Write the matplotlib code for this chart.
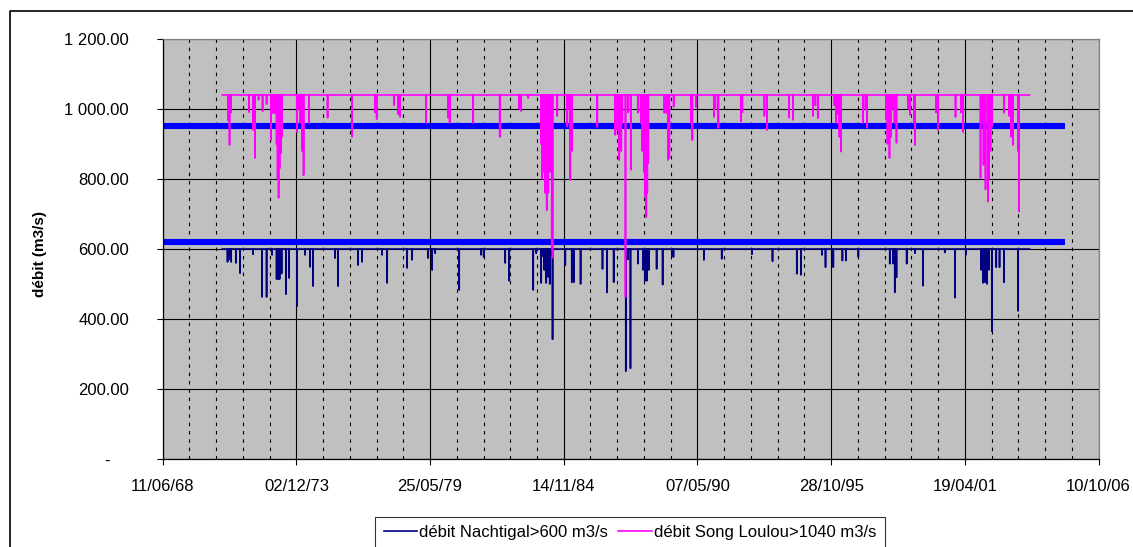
import matplotlib
matplotlib.use("Agg")
import matplotlib.pyplot as plt
import matplotlib.dates as mdates
from matplotlib.lines import Line2D
from matplotlib.ticker import FixedLocator, FuncFormatter
from datetime import datetime, timedelta

plt.rcParams['font.family'] = ['Liberation Sans', 'DejaVu Sans']

# ---------------------------------------------------------------------------
# Data (dates as decimal years)
# ---------------------------------------------------------------------------
record_start = 1970.88
record_end = 2003.95

# Song Loulou flows, capped at 1040 m3/s: low-flow dates and minimum flows
song_cap = 1040
song_dates = [
    1971.119, 1971.180, 1971.242, 1971.980, 1972.143, 1972.225, 1972.369, 1972.533, 1972.697,
    1972.881, 1972.963, 1973.045, 1973.107, 1973.148, 1973.189, 1973.230, 1973.291, 1973.332,
    1973.947, 1974.008, 1974.070, 1974.152, 1974.213, 1974.439, 1975.197, 1976.201,
    1977.144, 1977.205, 1977.923, 1978.086, 1978.168, 1979.234, 1980.136, 1980.197, 1981.160,
    1982.246, 1983.046, 1983.128, 1983.415,
    1983.947, 1983.988, 1984.070, 1984.111, 1984.173, 1984.234, 1984.275, 1984.316, 1984.378, 1984.411,
    1984.603, 1985.013, 1985.075, 1985.136, 1985.198, 1986.243,
    1986.980, 1987.021, 1987.062, 1987.144, 1987.226, 1987.267, 1987.399, 1987.513, 1987.616,
    1987.903, 1988.026, 1988.087, 1988.149, 1988.210, 1988.251, 1988.292, 1988.333,
    1988.989, 1989.071, 1989.132, 1989.194, 1989.370, 1990.075, 1990.136, 1990.280,
    1991.018, 1991.079, 1991.202, 1992.124, 1992.186, 1993.087, 1993.190, 1994.092, 1994.255,
    1995.075, 1995.178, 1995.280, 1995.956, 1996.018, 1996.079, 1996.161, 1996.231,
    1997.125, 1997.227, 1997.288, 1998.067, 1998.129, 1998.211, 1998.272, 1998.334, 1998.416, 1998.498,
    1998.969, 1999.051, 1999.215, 1999.256, 2000.116, 2000.198, 2000.916, 2001.141, 2001.223,
    2001.940, 2001.981, 2002.063, 2002.145, 2002.240, 2002.289, 2002.350, 2002.412,
    2002.895, 2003.108, 2003.190, 2003.272, 2003.477, 2003.518,
]
song_flows = [
    968, 897, 990, 991, 940, 860, 1026, 994, 1014,
    911, 988, 988, 900, 800, 746, 830, 874, 920,
    934, 1000, 960, 880, 811, 960, 975, 920,
    990, 971, 1011, 985, 977, 960, 975, 960, 960,
    920, 1000, 994, 1031,
    900, 800, 820, 760, 711, 760, 900, 820, 603, 575,
    980, 950, 1000, 797, 880, 949,
    926, 990, 940, 854, 880, 960, 463, 990, 826,
    989, 960, 880, 820, 750, 691, 760, 846,
    989, 989, 854, 860, 1006, 960, 911, 1006,
    977, 1000, 946, 964, 990, 980, 940, 975, 969,
    980, 1010, 974, 1010, 960, 985, 920, 878,
    960, 1000, 946, 970, 900, 860, 920, 1000, 960, 903,
    1000, 983, 960, 897, 990, 940, 977, 990, 934,
    803, 960, 840, 770, 735, 800, 880, 950,
    989, 980, 920, 897, 880, 707,
]

# Nachtigal flows, capped at 600 m3/s: low-flow dates and minimum flows
nacht_cap = 600
nacht_dates = [
    1971.098, 1971.160, 1971.242, 1971.447, 1971.611, 1972.143, 1972.512, 1972.697, 1972.922,
    1973.107, 1973.168, 1973.230, 1973.312, 1973.496, 1973.619, 1973.947, 1974.275, 1974.480, 1974.603,
    1975.504, 1975.627, 1976.447, 1976.611, 1977.431, 1977.636, 1978.455, 1978.660,
    1979.316, 1979.480, 1979.603, 1980.587, 1981.488, 1981.591, 1982.472, 1982.636, 1983.620, 1983.743,
    1983.947, 1983.988, 1984.070, 1984.152, 1984.234, 1984.296, 1984.337, 1984.411,
    1984.931, 1985.198, 1985.280, 1985.558, 1986.456, 1986.636, 1986.915,
    1987.411, 1987.493, 1987.603, 1987.911, 1988.116, 1988.190, 1988.272, 1988.353, 1988.673, 1988.919,
    1989.296, 1989.362, 1990.608, 1991.341, 1992.575, 1993.419, 1994.415, 1994.583,
    1995.452, 1995.592, 1995.911, 1996.284, 1996.424, 1996.936,
    1998.223, 1998.362, 1998.428, 1998.498, 1998.916, 1999.260, 1999.580, 2000.477, 2000.895, 2001.338,
    2001.961, 2002.043, 2002.125, 2002.207, 2002.289, 2002.403, 2002.584, 2002.719, 2002.899, 2003.481,
]
nacht_flows = [
    563, 570, 563, 560, 531, 585, 463, 463, 583,
    514, 514, 514, 530, 471, 517, 437, 583, 549, 494,
    574, 494, 554, 563, 583, 503, 546, 569,
    574, 540, 588, 483, 583, 577, 560, 509, 483, 588,
    503, 580, 540, 503, 520, 500, 580, 342,
    554, 505, 505, 500, 543, 476, 505,
    251, 570, 259, 558, 540, 509, 509, 540, 543, 498,
    580, 577, 569, 572, 585, 565, 529, 526,
    583, 548, 548, 567, 567, 577,
    558, 558, 476, 519, 558, 588, 495, 590, 461, 583,
    540, 503, 505, 500, 540, 365, 548, 548, 505, 423,
]

# Reference flow levels (horizontal markers)
level_song = 950
level_nacht = 620
level_start = 1968.442
level_end = 2005.38

legend_labels = ['débit Nachtigal>600 m3/s', 'débit Song Loulou>1040 m3/s']


# ---------------------------------------------------------------------------
def to_date(y):
    yr = int(y)
    d0 = datetime(yr, 1, 1)
    d1 = datetime(yr + 1, 1, 1)
    return d0 + (d1 - d0) * (y - yr)


def capped_series(dates, flows, cap, half_width=0.003):
    """Trace the capped flow: the line sits on the cap and drops to each low."""
    xs = [to_date(record_start)]
    ys = [cap]
    for d, v in sorted(zip(dates, flows)):
        xs += [to_date(d - half_width), to_date(d), to_date(d + half_width)]
        ys += [cap, v, cap]
    xs.append(to_date(record_end))
    ys.append(cap)
    return xs, ys


W, H = 1133, 547
fig = plt.figure(figsize=(W / 100, H / 100), dpi=100)
ax_l, ax_r, ax_t, ax_b = 162.7, 1098.5, 39.0, 459.0
ax = fig.add_axes([ax_l / W, 1 - ax_b / H, (ax_r - ax_l) / W, (ax_b - ax_t) / H])
ax.set_facecolor('#C0C0C0')
ax.set_axisbelow(True)

# Horizontal reference levels
for lvl in (level_song, level_nacht):
    ax.plot([to_date(level_start), to_date(level_end)], [lvl, lvl],
            color='#0000FF', lw=4.4, solid_capstyle='butt', zorder=2)

nx, ny = capped_series(nacht_dates, nacht_flows, nacht_cap)
sx, sy = capped_series(song_dates, song_flows, song_cap)
l1, = ax.plot(nx, ny, color='#000080', lw=1.2, zorder=3)
l2, = ax.plot(sx, sy, color='#FF00FF', lw=1.2, zorder=4)

# Axes: dates every 2000 days, minor lines every 400 days
origin = datetime(1968, 6, 11)
major = [origin + timedelta(days=2000 * k) for k in range(8)]
minor = [origin + timedelta(days=400 * k) for k in range(36) if k % 5]
ax.set_xlim(major[0], major[-1])
ax.set_ylim(0, 1200)
ax.xaxis.set_major_locator(FixedLocator(mdates.date2num(major)))
ax.xaxis.set_minor_locator(FixedLocator(mdates.date2num(minor)))
ax.xaxis.set_major_formatter(mdates.DateFormatter('%d/%m/%y'))
ax.yaxis.set_major_locator(FixedLocator(range(0, 1201, 200)))


def yfmt(v, pos):
    if v == 0:
        return '-    '
    return f'{v:,.2f}'.replace(',', ' ')


ax.yaxis.set_major_formatter(FuncFormatter(yfmt))

ax.grid(which='major', axis='both', color='#000000', lw=0.8, ls='-')
ax.grid(which='minor', axis='x', color='#000000', lw=0.8, ls=(0, (3.2, 4.3)))

ax.tick_params(axis='both', which='major', direction='out', length=4.2, width=0.8,
               labelsize=12, color='#000000')
ax.tick_params(axis='x', which='major', pad=10)
ax.tick_params(axis='y', which='major', pad=20)
ax.tick_params(axis='x', which='minor', length=0)

for side in ('left', 'bottom'):
    ax.spines[side].set_color('#000000')
    ax.spines[side].set_linewidth(0.9)
for side in ('top', 'right'):
    ax.spines[side].set_color('#808080')
    ax.spines[side].set_linewidth(0.9)

fig.text(40 / W, 1 - 254 / H, 'débit (m3/s)', rotation=90, ha='center', va='center',
         fontsize=11, fontweight='bold')

leg = fig.legend([l1, l2], legend_labels, loc='upper center', ncol=2,
                 bbox_to_anchor=(630 / W, 1 - 516.5 / H), frameon=True, fancybox=False,
                 fontsize=12, handlelength=2.0, handletextpad=0.15, columnspacing=0.6,
                 borderpad=0.5, borderaxespad=0)
leg.get_frame().set_edgecolor('#000000')
leg.get_frame().set_linewidth(0.8)

# Chart area border
fig.add_artist(Line2D([10 / W, 10 / W, 1.0], [0.0, 1 - 11 / H, 1 - 11 / H],
                      transform=fig.transFigure, color='#000000', lw=1.2))

fig.savefig('out.png', dpi=100)
